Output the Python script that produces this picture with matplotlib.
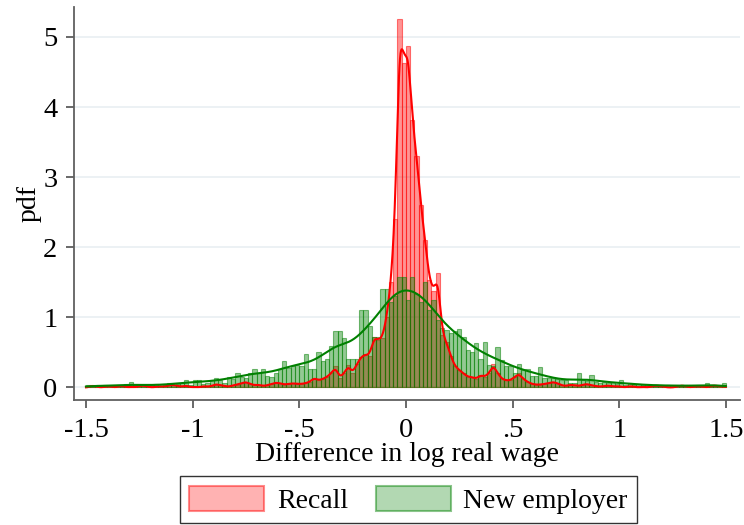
import numpy as np
import matplotlib.pyplot as plt
from matplotlib.patches import Patch

plt.rcParams['font.family'] = ['Liberation Serif', 'DejaVu Serif']

# histogram bins: width .02 from -1.5 to 1.5
bin_width = 0.02
bin_edges = np.round(np.arange(-1.5, 1.5 + bin_width / 2, bin_width), 3)
bin_centers = bin_edges[:-1] + bin_width / 2

# density of each bin, recalled workers
recall_pdf = [
    0.00, 0.03, 0.01, 0.00, 0.01, 0.02, 0.00, 0.01, 0.03, 0.00,
    0.01, 0.00, 0.02, 0.03, 0.01, 0.00, 0.01, 0.02, 0.01, 0.03,
    0.04, 0.02, 0.01, 0.03, 0.00, 0.01, 0.00, 0.02, 0.01, 0.02,
    0.05, 0.03, 0.02, 0.01, 0.03, 0.04, 0.06, 0.08, 0.05, 0.03,
    0.04, 0.02, 0.03, 0.05, 0.07, 0.06, 0.04, 0.05, 0.06, 0.05,
    0.05, 0.06, 0.08, 0.14, 0.10, 0.12, 0.15, 0.20, 0.30, 0.13,
    0.20, 0.32, 0.20, 0.33, 0.44, 0.47, 0.45, 0.72, 0.68, 0.70,
    1.00, 1.50, 2.40, 5.25, 4.63, 4.87, 3.82, 3.30, 2.60, 2.10,
    1.53, 1.37, 1.63, 0.75, 0.65, 0.45, 0.30, 0.25, 0.20, 0.15,
    0.15, 0.12, 0.18, 0.15, 0.20, 0.33, 0.20, 0.12, 0.10, 0.10,
    0.15, 0.20, 0.12, 0.08, 0.05, 0.04, 0.04, 0.05, 0.06, 0.08,
    0.06, 0.03, 0.02, 0.04, 0.03, 0.02, 0.04, 0.05, 0.03, 0.02,
    0.01, 0.02, 0.03, 0.01, 0.02, 0.01, 0.00, 0.02, 0.01, 0.00,
    0.01, 0.00, 0.01, 0.03, 0.02, 0.01, 0.00, 0.00, 0.01, 0.03,
    0.02, 0.00, 0.01, 0.02, 0.01, 0.00, 0.02, 0.03, 0.01, 0.02,
]

# density of each bin, workers moving to a new employer
new_employer_pdf = [
    0.03, 0.02, 0.04, 0.02, 0.03, 0.01, 0.02, 0.03, 0.02, 0.05,
    0.08, 0.03, 0.02, 0.04, 0.02, 0.03, 0.05, 0.02, 0.04, 0.06,
    0.03, 0.05, 0.07, 0.10, 0.04, 0.10, 0.10, 0.05, 0.06, 0.10,
    0.14, 0.10, 0.06, 0.15, 0.12, 0.21, 0.15, 0.13, 0.20, 0.26,
    0.20, 0.26, 0.16, 0.15, 0.20, 0.27, 0.37, 0.28, 0.30, 0.32,
    0.30, 0.48, 0.26, 0.26, 0.51, 0.37, 0.40, 0.59, 0.80, 0.80,
    0.70, 0.40, 0.40, 0.40, 1.10, 1.10, 0.88, 0.72, 0.72, 1.40,
    1.40, 1.22, 1.30, 1.58, 1.58, 1.25, 1.58, 1.34, 1.22, 1.50,
    1.10, 1.25, 0.96, 0.85, 0.82, 0.78, 0.80, 0.84, 0.72, 0.54,
    0.51, 0.64, 0.40, 0.65, 0.32, 0.30, 0.58, 0.39, 0.30, 0.30,
    0.21, 0.33, 0.25, 0.26, 0.16, 0.16, 0.29, 0.13, 0.13, 0.14,
    0.12, 0.10, 0.10, 0.07, 0.07, 0.21, 0.10, 0.09, 0.18, 0.08,
    0.07, 0.08, 0.06, 0.08, 0.05, 0.10, 0.04, 0.06, 0.03, 0.05,
    0.04, 0.03, 0.04, 0.02, 0.03, 0.02, 0.04, 0.02, 0.03, 0.02,
    0.03, 0.01, 0.02, 0.03, 0.02, 0.07, 0.02, 0.03, 0.02, 0.07,
]

x_ticks = [-1.5, -1, -0.5, 0, 0.5, 1, 1.5]
x_tick_labels = ['-1.5', '-1', '-.5', '0', '.5', '1', '1.5']
y_ticks = [0, 1, 2, 3, 4, 5]


def smooth_density(grid, centers, heights, bandwidth):
    # gaussian kernel smoothing of the binned density
    heights = np.asarray(heights)
    z = (grid[:, None] - centers[None, :]) / bandwidth
    k = np.exp(-0.5 * z ** 2) / (bandwidth * np.sqrt(2 * np.pi))
    return (k * heights[None, :] * bin_width).sum(axis=1)


grid = np.linspace(-1.5, 1.5, 1201)
recall_kde = smooth_density(grid, bin_centers, recall_pdf, 0.013)
new_kde = smooth_density(grid, bin_centers, new_employer_pdf, 0.06)

# legend swatches are lighter than the stacked bars
red_face = (1, 0, 0, 0.3)
red_edge = (1, 0, 0, 0.45)
green_face = (0, 0.5, 0, 0.3)
green_edge = (0, 0.5, 0, 0.45)

fig = plt.figure(figsize=(7.44, 5.25), dpi=100)
ax = fig.add_axes([0.0995, 0.238, 0.895, 0.749])

ax.bar(bin_centers, recall_pdf, width=bin_width, color=(1, 0, 0, 0.42),
       edgecolor=(1, 0, 0, 0.5), linewidth=0.8, zorder=2)
ax.bar(bin_centers, new_employer_pdf, width=bin_width, color=(0, 0.5, 0, 0.42),
       edgecolor=(0, 0.5, 0, 0.5), linewidth=0.8, zorder=3)
ax.plot(grid, recall_kde, color='red', lw=1.5, zorder=4)
ax.plot(grid, new_kde, color='green', lw=1.5, zorder=4)

ax.set_xlim(-1.556, 1.566)
ax.set_ylim(-0.18, 5.43)
ax.set_xticks(x_ticks)
ax.set_xticklabels(x_tick_labels)
ax.set_yticks(y_ticks)
ax.yaxis.grid(True, color='#e9eff2', lw=1.2, zorder=0)
ax.set_axisbelow(True)

for side in ['top', 'right']:
    ax.spines[side].set_visible(False)
for side in ['left', 'bottom']:
    ax.spines[side].set_color('#606060')
    ax.spines[side].set_linewidth(1.3)
ax.tick_params(axis='both', direction='out', length=6, width=1.1,
               color='#404040', labelsize=20.5, pad=7)
ax.tick_params(axis='y', pad=6)

ax.set_xlabel('Difference in log real wage', fontsize=20, labelpad=-1)
ax.set_ylabel('pdf', fontsize=20, labelpad=1)

handles = [
    Patch(facecolor=red_face, edgecolor=red_edge, linewidth=1.5, label='Recall'),
    Patch(facecolor=green_face, edgecolor=green_edge, linewidth=1.5, label='New employer'),
]
fig.legend(handles=handles, loc='center', bbox_to_anchor=(0.549, 0.048),
           ncol=2, fontsize=20, frameon=True, fancybox=False,
           edgecolor='black', handlelength=2.7, handleheight=1.0,
           columnspacing=1.0, handletextpad=0.45, borderpad=0.35)

fig.savefig('out.png', dpi=100)
